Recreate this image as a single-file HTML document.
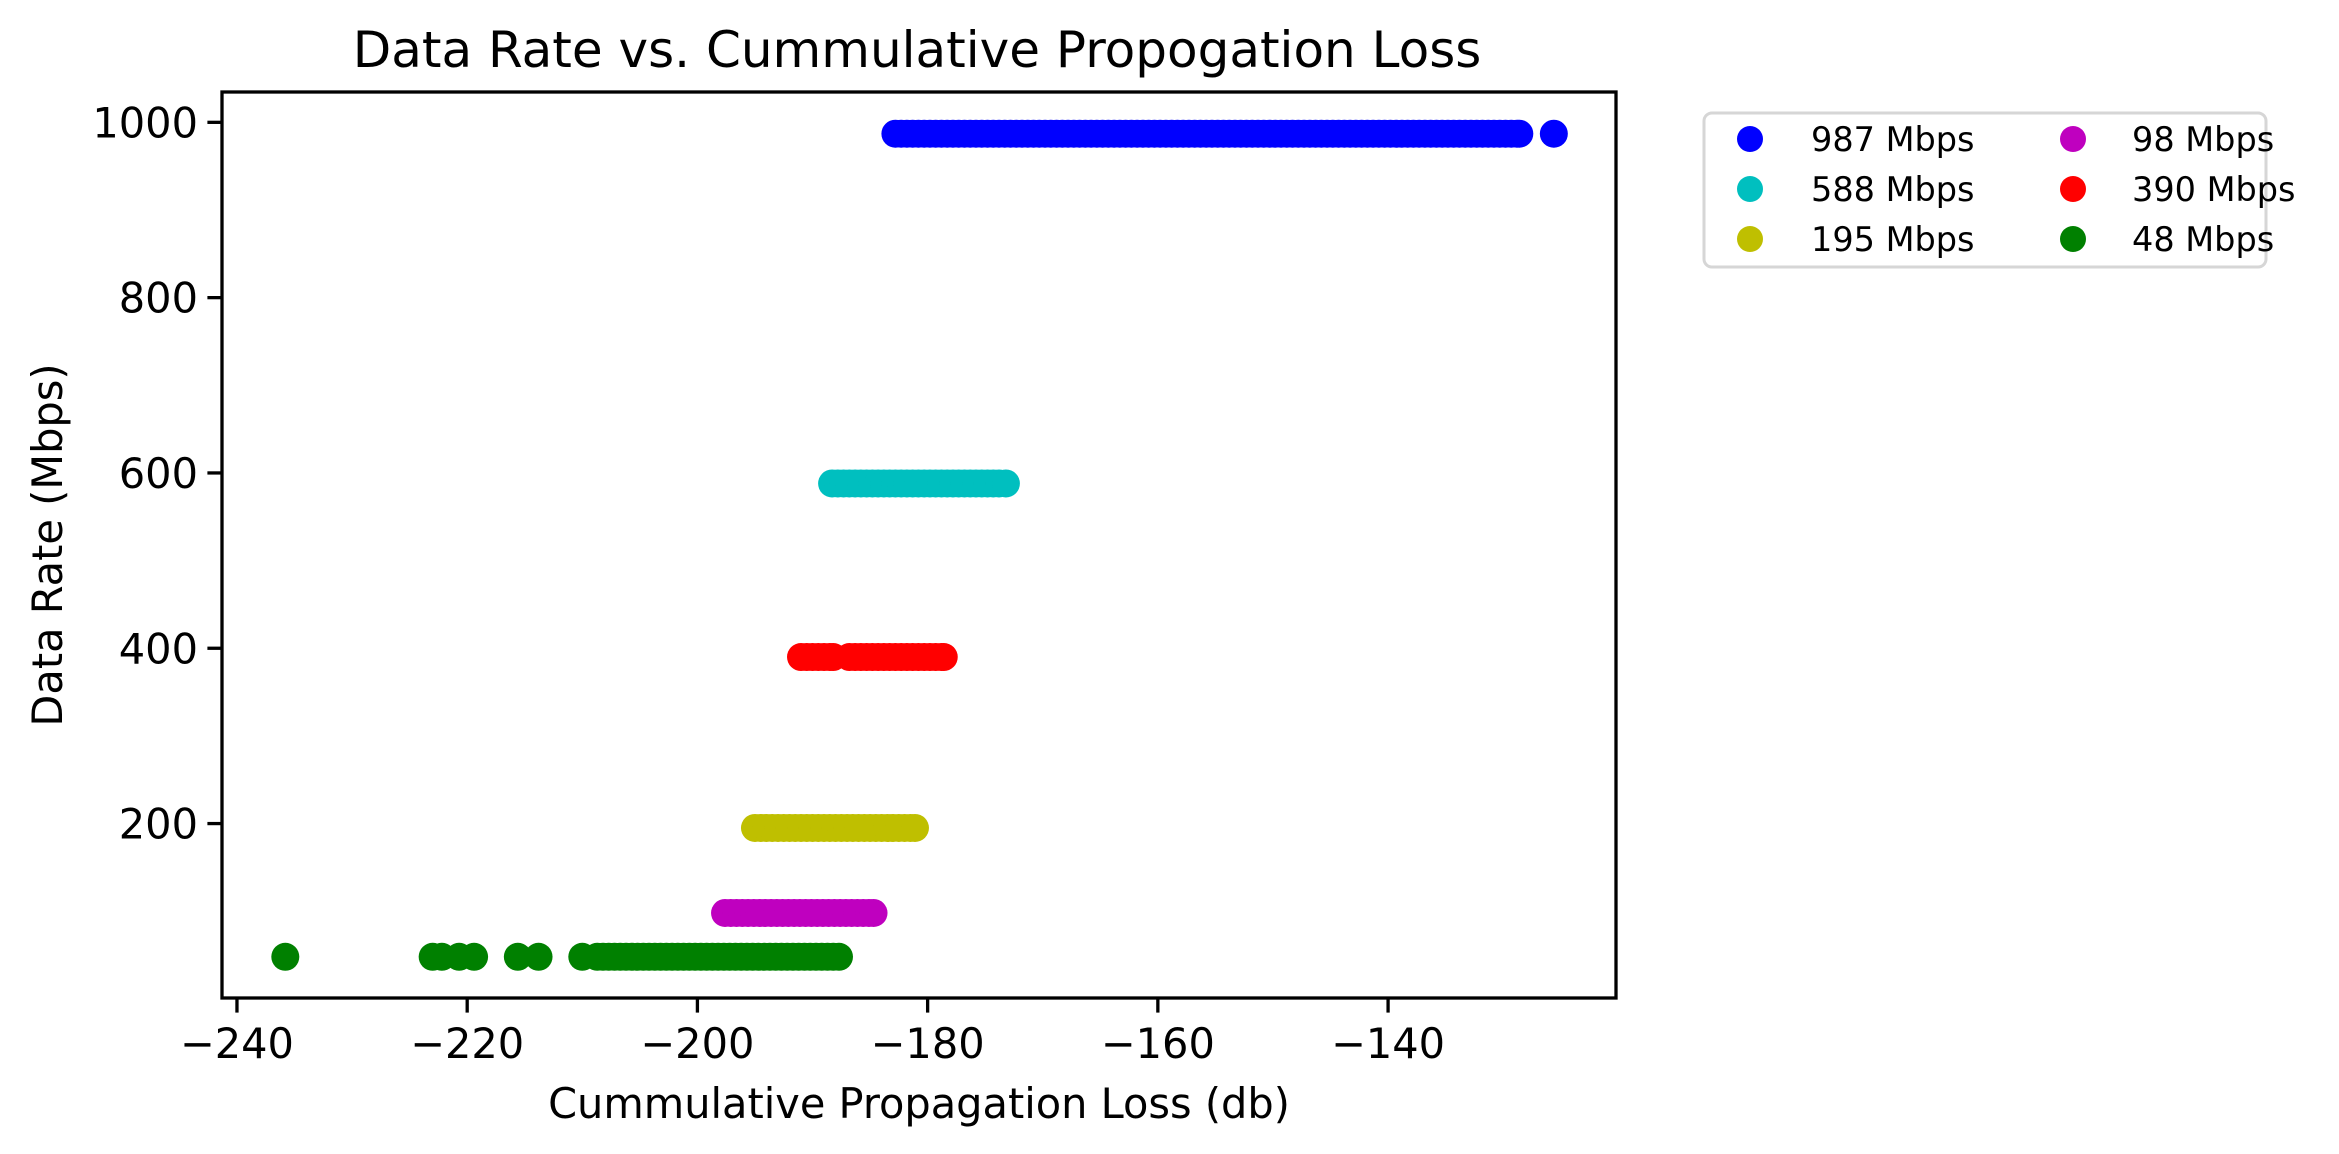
<!DOCTYPE html>
<html><head><meta charset="utf-8"><style>
html,body{margin:0;padding:0;background:#fff;}
svg{display:block;font-family:"DejaVu Sans","Liberation Sans",sans-serif;}
</style></head><body>
<svg id="chart" width="2339" height="1154" viewBox="0 0 2339 1154">
<rect width="2339" height="1154" fill="#fff"/>
<text x="917" y="67" font-size="50" text-anchor="middle">Data Rate vs. Cummulative Propogation Loss</text>
<g id="marks"></g>
<rect x="222" y="92" width="1394" height="906" fill="none" stroke="#000" stroke-width="3.3"/>
<g id="xticks"></g>
<g id="yticks"></g>
<text x="919" y="1118" font-size="41.5" text-anchor="middle">Cummulative Propagation Loss (db)</text>
<text transform="translate(62,545) rotate(-90)" font-size="41.5" text-anchor="middle">Data Rate (Mbps)</text>
<g id="legend">
<rect x="1704" y="113" width="562" height="154" rx="8" fill="#fff" stroke="#d6d6d6" stroke-width="3"/>
</g>
</svg>
<script>
const xTicks = [-240, -220, -200, -180, -160, -140];
const yTicks = [200, 400, 600, 800, 1000];
const seriesLabels = ["987 Mbps", "588 Mbps", "195 Mbps", "98 Mbps", "390 Mbps", "48 Mbps"];
const seriesColors = ["#0000ff", "#00bfbf", "#bfbf00", "#bf00bf", "#ff0000", "#008000"];
const seriesY = [987, 588, 195, 98, 390, 48];
const x987 = [-182.8,-182.3,-181.8,-181.3,-180.8,-180.3,-179.8,-179.3,-178.8,-178.3,-177.8,-177.3,-176.8,-176.3,-175.8,-175.3,-174.8,-174.3,-173.8,-173.3,-172.8,-172.3,-171.8,-171.3,-170.8,-170.3,-169.8,-169.3,-168.8,-168.3,-167.8,-167.3,-166.8,-166.3,-165.8,-165.3,-164.8,-164.3,-163.8,-163.3,-162.8,-162.3,-161.8,-161.3,-160.8,-160.3,-159.8,-159.3,-158.8,-158.3,-157.8,-157.3,-156.8,-156.3,-155.8,-155.3,-154.8,-154.3,-153.8,-153.3,-152.8,-152.3,-151.8,-151.3,-150.8,-150.3,-149.8,-149.3,-148.8,-148.3,-147.8,-147.3,-146.8,-146.3,-145.8,-145.3,-144.8,-144.3,-143.8,-143.3,-142.8,-142.3,-141.8,-141.3,-140.8,-140.3,-139.8,-139.3,-138.8,-138.3,-137.8,-137.3,-136.8,-136.3,-135.8,-135.3,-134.8,-134.3,-133.8,-133.3,-132.8,-132.3,-131.8,-131.3,-130.8,-130.3,-129.8,-129.3,-128.8,-128.6,-125.6];
const x588 = [-188.3,-187.8,-187.3,-186.8,-186.3,-185.8,-185.3,-184.8,-184.3,-183.8,-183.3,-182.8,-182.3,-181.8,-181.3,-180.8,-180.3,-179.8,-179.3,-178.8,-178.3,-177.8,-177.3,-176.8,-176.3,-175.8,-175.3,-174.8,-174.3,-173.8,-173.2];
const x195 = [-195,-194.5,-194,-193.5,-193,-192.5,-192,-191.5,-191,-190.5,-190,-189.5,-189,-188.5,-188,-187.5,-187,-186.5,-186,-185.5,-185,-184.5,-184,-183.5,-183,-182.5,-182,-181.5,-181.1];
const x98 = [-197.6,-197.1,-196.6,-196.1,-195.6,-195.1,-194.6,-194.1,-193.6,-193.1,-192.6,-192.1,-191.6,-191.1,-190.6,-190.1,-189.6,-189.1,-188.6,-188.1,-187.6,-187.1,-186.6,-186.1,-185.6,-185.1,-184.7];
const x390 = [-191,-190.5,-190,-189.5,-189,-188.5,-188.2,-186.8,-186.3,-185.8,-185.3,-184.8,-184.3,-183.8,-183.3,-182.8,-182.3,-181.8,-181.3,-180.8,-180.3,-179.8,-179.3,-178.8,-178.6];
const x48 = [-235.8,-223,-222.2,-220.7,-219.4,-215.6,-213.8,-210,-208.7,-208.2,-207.7,-207.2,-206.7,-206.2,-205.7,-205.2,-204.7,-204.2,-203.7,-203.2,-202.7,-202.2,-201.7,-201.2,-200.7,-200.2,-199.7,-199.2,-198.7,-198.2,-197.7,-197.2,-196.7,-196.2,-195.7,-195.2,-194.7,-194.2,-193.7,-193.2,-192.7,-192.2,-191.7,-191.2,-190.7,-190.2,-189.7,-189.2,-188.7,-188.2,-187.7];
const seriesX = [x987, x588, x195, x98, x390, x48];

const NS = "http://www.w3.org/2000/svg";
const xMin = -241.3, xMax = -120.2, yMin = 1.0, yMax = 1034.6;
const L = 222, R = 1616, T = 92, B = 998;
function sx(v){ return L + (v - xMin) / (xMax - xMin) * (R - L); }
function sy(v){ return B - (v - yMin) / (yMax - yMin) * (B - T); }
function mk(tag, attrs){ const e = document.createElementNS(NS, tag); for (const k in attrs) e.setAttribute(k, attrs[k]); return e; }

const marks = document.getElementById("marks");
seriesX.forEach((xs, si) => {
  const g = mk("g", {fill: seriesColors[si]});
  
  
  xs.forEach(v => {
    const c = mk("circle", {cx: sx(v), cy: sy(seriesY[si]), r: 14});
    
    
    g.appendChild(c);
  });
  marks.appendChild(g);
});

const xg = document.getElementById("xticks");
xTicks.forEach(t => {
  const x = sx(t);
  const ln = mk("line", {x1: x, x2: x, y1: B, y2: B + 14.6, stroke: "#000", "stroke-width": 3.3});
  
  
  xg.appendChild(ln);
  const tx = mk("text", {x: x, y: B + 60, "font-size": 41.5, "text-anchor": "middle"});
  tx.textContent = "\u2212" + Math.abs(t);
  
  
  xg.appendChild(tx);
});
const yg = document.getElementById("yticks");
yTicks.forEach(t => {
  const y = sy(t);
  const ln = mk("line", {x1: L - 14.6, x2: L, y1: y, y2: y, stroke: "#000", "stroke-width": 3.3});
  
  
  yg.appendChild(ln);
  const tx = mk("text", {x: L - 24, y: y + 15, "font-size": 41.5, "text-anchor": "end"});
  tx.textContent = String(t);
  
  
  yg.appendChild(tx);
});

const lg = document.getElementById("legend");
seriesLabels.forEach((lab, i) => {
  const col = Math.floor(i / 3), row = i % 3;
  const cx = col ? 2073 : 1750, ty = 139 + row * 50, tx0 = col ? 2132 : 1811;
  const g = mk("g", {});
  
  
  g.appendChild(mk("circle", {cx: cx, cy: ty, r: 13, fill: seriesColors[i]}));
  const t = mk("text", {x: tx0, y: ty + 12, "font-size": 33.5});
  t.textContent = lab;
  g.appendChild(t);
  lg.appendChild(g);
});
</script>
</body></html>
